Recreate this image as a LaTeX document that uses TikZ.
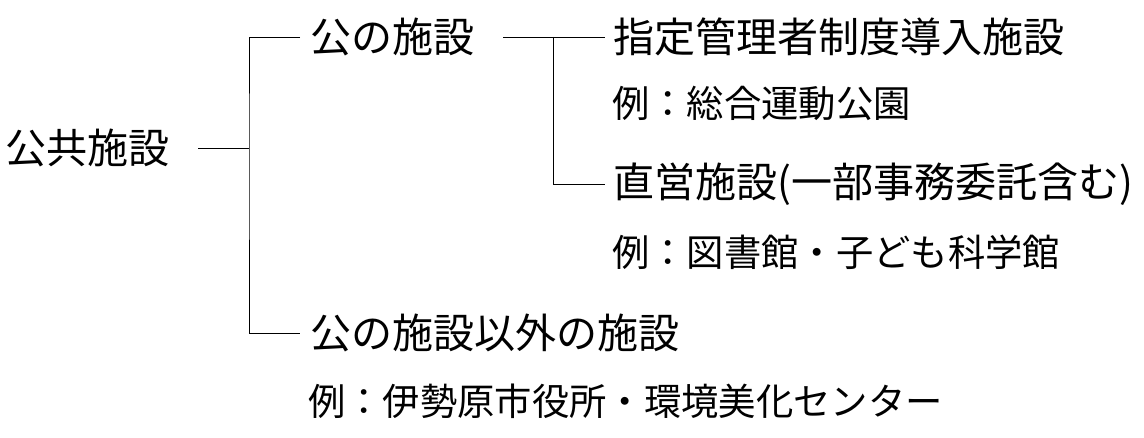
\documentclass[tikz,border=0pt]{standalone}
\usepackage{fontspec}
\setmainfont{Noto Sans CJK JP}
\usetikzlibrary{calc,positioning}
\tikzset{
 kf branch/.style={thin,black},
 kf label/.style={anchor=west,inner sep=0pt,outer sep=0pt,
                  font=\fontsize{30.8pt}{36pt}\selectfont},
 kf example/.style={anchor=west,inner sep=0pt,outer sep=0pt,
                    font=\fontsize{28pt}{33pt}\selectfont}
}
\begin{document}
\begin{tikzpicture}[x=0.75pt,y=-0.75pt]
 \useasboundingbox (0,0) rectangle (1144,438);
 % root and first level
 \node[kf label] (root) at (5,148) {公共施設};
 \coordinate (j1) at (249,148);
 \node[kf label] (pub) at (310,37) {公の施設};
 \node[kf label] (other) at (310,333) {公の施設以外の施設};
 \node[kf example] (ex3) at (308,401) {例：伊勢原市役所・環境美化センター};
 % second level
 \coordinate (j2) at (553,37);
 \node[kf label] (desig) at (613,37) {指定管理者制度導入施設};
 \node[kf example] (ex1) at (612,103) {例：総合運動公園};
 \node[kf label] (direct) at (613,184) {直営施設(一部事務委託含む)};
 \node[kf example] (ex2) at (612,252) {例：図書館・子ども科学館};
 % connectors
 \draw[kf branch] ($(root.east)+(29,0)$) -- (j1);
 \draw[kf branch] ($(pub.west)+(-10,0)$) -| (j1) |- ($(other.west)+(-10,0)$);
 \draw[kf branch] ($(pub.east)+(29,0)$) -- ($(desig.west)+(-8,0)$);
 \draw[kf branch] (j2) |- ($(direct.west)+(-8,0)$);
\end{tikzpicture}
\end{document}
